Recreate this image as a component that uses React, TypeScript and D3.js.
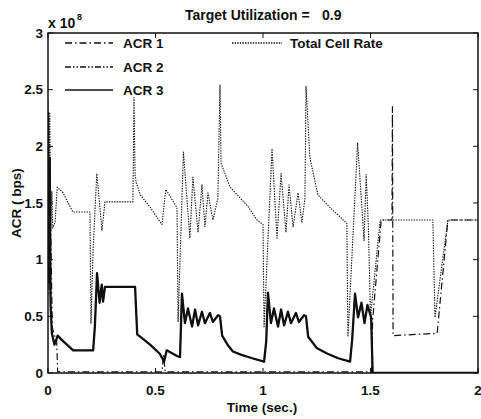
import { scaleLinear, line } from 'd3'

// values in units of 1e8 bps, time in seconds
const xTicks = [0, 0.5, 1, 1.5, 2]
const yTicks = [0, 0.5, 1, 1.5, 2, 2.5, 3]
const xTickLabels = ['0', '0.5', '1', '1.5', '2']
const yTickLabels = ['0', '0.5', '1', '1.5', '2', '2.5', '3']

const acr1: [number, number][] = [
  [0, 2.2], [0.005, 0.7], [0.01, 1.6], [0.02, 0.4], [0.035, 0.3], [0.04, 0.3], [0.045, 0.01],
  [0.53, 0.01], [0.537, 0.16], [0.545, 0.01], [1.505, 0.01], [1.51, 0.47], [1.55, 1.35],
  [1.6, 1.35], [1.602, 2.35], [1.605, 0.33], [1.81, 0.35], [1.86, 1.35], [2.0, 1.35],
]

const acr3: [number, number][] = [
  [0, 2.3], [0.004, 0.8], [0.008, 1.9], [0.012, 0.6], [0.018, 0.35], [0.03, 0.25], [0.045, 0.33],
  [0.065, 0.29], [0.117, 0.2], [0.21, 0.2], [0.218, 0.41], [0.228, 0.88], [0.24, 0.62], [0.25, 0.78],
  [0.256, 0.63], [0.265, 0.76], [0.405, 0.76], [0.415, 0.34], [0.475, 0.25], [0.52, 0.17], [0.54, 0.1],
  [0.552, 0.2], [0.6, 0.15], [0.614, 0.14], [0.623, 0.7], [0.637, 0.44], [0.651, 0.57], [0.67, 0.41],
  [0.684, 0.56], [0.698, 0.42], [0.716, 0.54], [0.73, 0.44], [0.753, 0.53], [0.767, 0.45], [0.791, 0.51],
  [0.8, 0.5], [0.81, 0.33], [0.835, 0.25], [0.86, 0.19], [0.9, 0.16], [0.95, 0.13], [1.005, 0.1],
  [1.015, 0.28], [1.023, 0.71], [1.037, 0.44], [1.051, 0.57], [1.07, 0.41], [1.084, 0.56], [1.098, 0.42],
  [1.116, 0.54], [1.13, 0.44], [1.153, 0.53], [1.167, 0.45], [1.191, 0.51], [1.2, 0.5], [1.21, 0.32],
  [1.25, 0.22], [1.3, 0.17], [1.35, 0.13], [1.405, 0.1], [1.415, 0.3], [1.428, 0.7], [1.442, 0.49],
  [1.458, 0.62], [1.472, 0.44], [1.486, 0.6], [1.503, 0.49], [1.51, 0.0], [2.0, 0.0],
]

// ACR 2 runs on top of ACR 3 in the picture
const acr2: [number, number][] = acr3

const totalRate: [number, number][] = [
  [0, 2.4], [0.004, 1.4], [0.008, 2.3], [0.013, 1.3], [0.018, 1.6], [0.022, 1.28], [0.033, 1.33],
  [0.043, 1.64], [0.07, 1.59], [0.116, 1.42], [0.195, 1.42], [0.2, 0.44], [0.21, 1.1], [0.227, 1.76],
  [0.251, 1.26], [0.265, 1.51], [0.395, 1.51], [0.4, 2.43], [0.405, 1.75], [0.41, 1.68], [0.43, 1.57],
  [0.476, 1.46], [0.53, 1.31], [0.548, 1.62], [0.577, 1.53], [0.6, 1.46], [0.605, 0.45], [0.63, 1.95],
  [0.66, 1.19], [0.674, 1.73], [0.698, 1.24], [0.716, 1.66], [0.73, 1.29], [0.744, 1.59], [0.767, 1.35],
  [0.79, 1.54], [0.8, 2.54], [0.805, 1.85], [0.847, 1.64], [0.93, 1.47], [0.972, 1.35], [1.0, 1.31],
  [1.005, 0.4], [1.042, 1.98], [1.065, 1.19], [1.084, 1.76], [1.107, 1.24], [1.121, 1.66], [1.14, 1.29],
  [1.163, 1.59], [1.181, 1.33], [1.195, 1.54], [1.2, 2.53], [1.218, 1.9], [1.256, 1.57], [1.312, 1.46],
  [1.39, 1.32], [1.395, 0.32], [1.44, 2.03], [1.47, 1.17], [1.48, 1.75], [1.49, 1.3], [1.5, 0.5],
  [1.545, 1.35], [1.79, 1.35], [1.8, 0.49], [1.86, 1.35], [2.0, 1.35],
]

const FONT = '"Liberation Sans", Arial, Helvetica, sans-serif'

export default function App() {
  const W = 481
  const H = 419
  const m = { left: 48, right: 478, top: 33, bottom: 373 }

  const x = scaleLinear().domain([0, 2]).range([m.left, m.right])
  const y = scaleLinear().domain([0, 3]).range([m.bottom, m.top])

  const path = line<[number, number]>()
    .x((d) => x(d[0]))
    .y((d) => y(d[1]))

  const ink = '#111'
  const tickLen = 5

  const legend = [
    { label: 'ACR 1', dash: '7,3,1.5,3', y: 43, x0: 65, x1: 113, tx: 123 },
    { label: 'ACR 2', dash: '6,2,1.5,2,1.5,2', y: 67, x0: 65, x1: 113, tx: 123 },
    { label: 'ACR 3', dash: 'none', y: 90, x0: 65, x1: 113, tx: 123 },
    { label: 'Total Cell Rate', dash: '1.4,1.2', y: 43, x0: 232, x1: 282, tx: 290 },
  ]

  return (
    <svg
      width={W}
      height={H}
      style={{ position: 'absolute', left: 0, top: 0, background: '#fff' }}
      fontFamily={FONT}
    >
      <defs>
        <clipPath id="plot">
          <rect x={m.left} y={m.top} width={m.right - m.left} height={m.bottom - m.top} />
        </clipPath>
      </defs>

      <g clipPath="url(#plot)" fill="none" stroke={ink} strokeLinejoin="round">
        <path d={path(totalRate) ?? ''} strokeWidth={1.1} strokeDasharray="1.4,1.2" />
        <path d={path(acr3) ?? ''} strokeWidth={2.3} />
        <path d={path(acr2) ?? ''} strokeWidth={1.2} strokeDasharray="6,2,1.5,2,1.5,2" />
        <path d={path(acr1) ?? ''} strokeWidth={1.2} strokeDasharray="7,3,1.5,3" />
      </g>

      {/* frame */}
      <rect
        x={m.left}
        y={m.top}
        width={m.right - m.left}
        height={m.bottom - m.top}
        fill="none"
        stroke={ink}
        strokeWidth={1.5}
      />

      {/* ticks */}
      <g stroke={ink} strokeWidth={1}>
        {xTicks.map((t) => (
          <g key={'x' + t}>
            <line x1={x(t)} x2={x(t)} y1={m.bottom} y2={m.bottom - tickLen} />
            <line x1={x(t)} x2={x(t)} y1={m.top} y2={m.top + tickLen} />
          </g>
        ))}
        {yTicks.map((t) => (
          <g key={'y' + t}>
            <line x1={m.left} x2={m.left + tickLen} y1={y(t)} y2={y(t)} />
            <line x1={m.right} x2={m.right - tickLen} y1={y(t)} y2={y(t)} />
          </g>
        ))}
      </g>

      <g fill={ink} fontSize={13.5} fontWeight="bold">
        {xTicks.map((t, i) => (
          <text key={'xl' + t} x={x(t)} y={395} textAnchor="middle">
            {xTickLabels[i]}
          </text>
        ))}
        {yTicks.map((t, i) => (
          <text key={'yl' + t} x={43} y={y(t) + 4.5} textAnchor="end">
            {yTickLabels[i]}
          </text>
        ))}

        <text x={48} y={28} fontSize={14}>x 10</text>
        <text x={77} y={20} fontSize={9}>8</text>

        <text x={185} y={20} fontSize={14}>Target Utilization =</text>
        <text x={322} y={20} fontSize={14}>0.9</text>

        <text x={262} y={412} textAnchor="middle">Time (sec.)</text>
        <text transform={`translate(21,${(m.top + m.bottom) / 2}) rotate(-90)`} textAnchor="middle">
          ACR ( bps)
        </text>

        {legend.map((l) => (
          <text key={l.label} x={l.tx} y={l.y + 4.5}>
            {l.label}
          </text>
        ))}
      </g>

      <g stroke={ink} fill="none">
        {legend.map((l) => (
          <line
            key={'ll' + l.label}
            x1={l.x0}
            x2={l.x1}
            y1={l.y}
            y2={l.y}
            strokeWidth={1.3}
            strokeDasharray={l.dash}
          />
        ))}
      </g>
    </svg>
  )
}
